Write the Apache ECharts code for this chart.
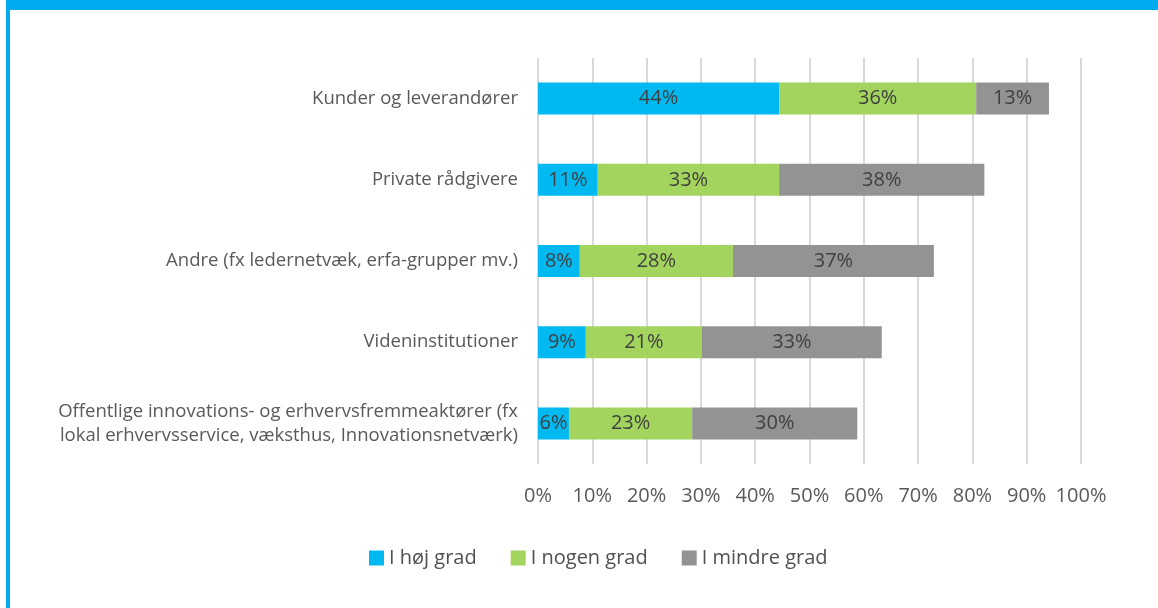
<!DOCTYPE html>
<html lang="da">

<head>
  <meta charset="utf-8">
  <title>Samarbejdspartnere</title>
  <style>
    body {
      margin: 0;
      background-color: white;
    }

    .box {
      position: absolute;
      left: 0;
      top: 0;
      width: 1158px;
      height: 608px;
    }

    .frame {
      position: absolute;
      left: 6px;
      top: 0;
      width: 1152px;
      height: 608px;
      box-sizing: border-box;
      border-top: 10px solid #00acef;
      border-left: 4px solid #00acef;
      pointer-events: none;
    }
  </style>
</head>

<body>
  <script src="https://cdn.jsdelivr.net/npm/echarts@6/dist/echarts.min.js"></script>

  <div class="box"></div>
  <div class="frame"></div>
  <script>
    // kategorier (fra top)
    var categories = [
      'Kunder og leverandører',
      'Private rådgivere',
      'Andre (fx ledernetvæk, erfa-grupper mv.)',
      'Videninstitutioner',
      'Offentlige innovations- og erhvervsfremmeaktører (fx\nlokal erhvervsservice, væksthus, Innovationsnetværk)'
    ];
    var seriesNames = ['I høj grad', 'I nogen grad', 'I mindre grad'];
    var hojGrad = [44.4, 11.0, 7.7, 8.8, 5.7];
    var nogenGrad = [36.3, 33.4, 28.2, 21.4, 22.7];
    var mindreGrad = [13.4, 37.8, 37.0, 33.1, 30.4];
    var tickValues = [0, 10, 20, 30, 40, 50, 60, 70, 80, 90, 100];

    var colors = ['#00b9f1', '#a2d45e', '#939393'];
    var font = "'Open Sans', sans-serif";

    var box = document.querySelector('.box');
    var myChart = echarts.init(box);

    function barSeries(name, data, color) {
      return {
        name: name,
        type: 'bar',
        stack: 'total',
        data: data,
        barWidth: 32,
        itemStyle: { color: color },
        label: {
          show: true,
          position: 'inside',
          color: '#404040',
          fontSize: 20,
          fontFamily: font,
          formatter: function (p) {
            return Math.round(p.value) + '%';
          }
        }
      };
    }

    var option = {
      animation: false,
      textStyle: { fontFamily: font },
      grid: {
        left: 538,
        right: 77,
        top: 58,
        height: 406
      },
      legend: {
        left: 364,
        top: 543,
        itemWidth: 15,
        itemHeight: 15,
        itemGap: 34,
        itemStyle: { borderWidth: 0 },
        icon: 'rect',
        textStyle: { fontSize: 20, color: '#505050', fontFamily: font },
        data: seriesNames
      },
      xAxis: {
        type: 'value',
        min: tickValues[0],
        max: tickValues[tickValues.length - 1],
        interval: 10,
        axisLine: { show: false },
        axisTick: { show: false },
        axisLabel: {
          color: '#595959',
          fontSize: 20,
          margin: 22,
          formatter: '{value}%'
        },
        splitLine: { lineStyle: { color: '#d9d9d9', width: 2 } }
      },
      yAxis: {
        type: 'category',
        inverse: true,
        data: categories,
        axisLine: { show: false },
        axisTick: { show: false },
        axisLabel: {
          color: '#595959',
          fontSize: 18.5,
          margin: 20,
          lineHeight: 24,
          align: 'right'
        }
      },
      series: [
        barSeries(seriesNames[0], hojGrad, colors[0]),
        barSeries(seriesNames[1], nogenGrad, colors[1]),
        barSeries(seriesNames[2], mindreGrad, colors[2])
      ]
    };
    myChart.setOption(option);
  </script>
</body>

</html>
